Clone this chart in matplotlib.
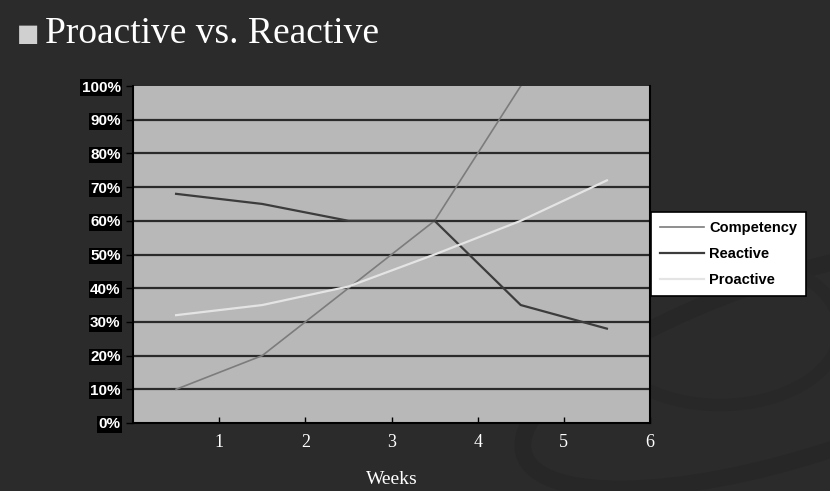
import matplotlib.pyplot as plt
import numpy as np
from matplotlib.patches import Ellipse

weeks = [0.5, 1.5, 2.5, 3.5, 4.5, 5.5]
competency = [10, 20, 40, 60, 100]
reactive = [68, 65, 60, 60, 35, 28]
proactive = [32, 35, 40.5, 50, 60, 72]
yticks = list(range(0, 101, 10))
xticks = [1, 2, 3, 4, 5, 6]

bg = '#2b2b2b'
fig = plt.figure(figsize=(8.3, 4.91), dpi=100, facecolor=bg)

# faint swoosh in the lower right of the background
bgax = fig.add_axes([0, 0, 1, 1], zorder=-5)
bgax.set_xlim(0, 830)
bgax.set_ylim(491, 0)
bgax.axis('off')
bgax.add_patch(Ellipse((800, 365), 580, 180, angle=-18, fill=False,
                       edgecolor='#272727', lw=12))
bgax.add_patch(Ellipse((720, 330), 240, 150, angle=0, fill=False,
                       edgecolor='#282828', lw=9))

ax = fig.add_axes([133/830, 1 - 423/491, (650-133)/830, (423-86)/491])
ax.set_facecolor('#b8b8b8')

for y in yticks[1:-1]:
    ax.axhline(y, color='#2a2a2a', lw=1.6, zorder=1)

ax.plot(weeks[:len(competency)], competency, color='#7c7c7c', lw=1.2,
        label='Competency', zorder=3)
ax.plot(weeks, reactive, color='#3c3c3c', lw=1.6, label='Reactive', zorder=3)
ax.plot(weeks, proactive, color='#e4e4e4', lw=1.6, label='Proactive', zorder=3)

ax.set_xlim(0, 6)
ax.set_ylim(0, 100)
ax.set_yticks(yticks)
ax.set_yticklabels([f'{v}%' for v in yticks], color='white', fontweight='bold',
                   fontsize=11, family='Liberation Sans')
for t in ax.get_yticklabels():
    t.set_bbox(dict(facecolor='black', edgecolor='none', pad=1))
ax.set_xticks(xticks)
ax.set_xticklabels([str(v) for v in xticks], color='white', fontsize=13,
                   family='Liberation Serif')
ax.tick_params(axis='y', colors='black', length=5, width=1, pad=4,
               labelcolor='white')
ax.tick_params(axis='x', direction='in', length=4, width=1, colors='black',
               labelcolor='white', pad=8)
ax.spines['top'].set_visible(False)
for s in ['left', 'bottom', 'right']:
    ax.spines[s].set_color('black')
    ax.spines[s].set_linewidth(1.5)

ax.set_xlabel('Weeks', color='white', fontsize=14, family='Liberation Serif',
              labelpad=14)

leg = ax.legend(loc='center left', bbox_to_anchor=(651/830, 1 - 254/491),
                bbox_transform=fig.transFigure, frameon=True, fancybox=False,
                framealpha=1,
                prop={'family': 'Liberation Sans', 'weight': 'bold', 'size': 10.5},
                handlelength=3.0, handletextpad=0.4, borderpad=0.6,
                labelspacing=0.85, borderaxespad=0)
leg.get_frame().set_edgecolor('black')
leg.get_frame().set_linewidth(1.2)
leg.get_frame().set_facecolor('white')

fig.text(17/830, 1 - 34/491, '\u25a0', color='#d0d0d0', fontsize=17,
         va='center', family='DejaVu Sans')
fig.text(45/830, 1 - 34/491, 'Proactive vs. Reactive', color='white',
         fontsize=27, va='center', family='Liberation Serif')

fig.savefig('out.png', dpi=100, facecolor=bg)
